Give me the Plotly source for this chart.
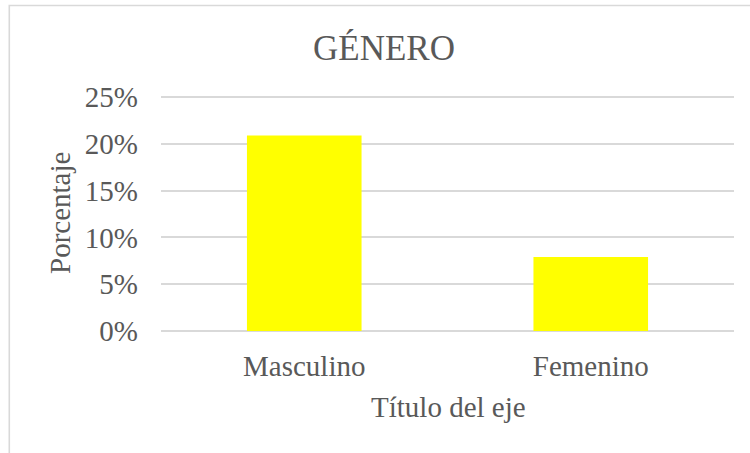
import plotly.graph_objects as go

categories = ["Masculino", "Femenino"]
values = [0.209, 0.079]
y_ticks = [0, 0.05, 0.10, 0.15, 0.20, 0.25]
y_tick_labels = ["0%", "5%", "10%", "15%", "20%", "25%"]

W, H = 750, 453
L, R, T, B = 161, 16, 96, 121
pw, ph = W - L - R, H - T - B

def px_x(p):
    return (p - L) / pw

def px_y(p):
    return (H - B - p) / ph

font_family = "Liberation Serif, Times New Roman, serif"
txt = "#595959"

fig = go.Figure(go.Bar(
    x=categories, y=values,
    marker=dict(color="#FFFF00", line=dict(width=0)),
    width=0.4,
))

fig.update_layout(
    width=W, height=H,
    margin=dict(l=L, r=R, t=T, b=B),
    paper_bgcolor="white", plot_bgcolor="white",
    font=dict(family=font_family, color=txt, size=29),
    showlegend=False,
    title=dict(text="GÉNERO", x=384 / W, xanchor="center", y=1 - 48 / H, yanchor="middle",
               font=dict(size=35, color=txt, family=font_family)),
    xaxis=dict(showgrid=False, showline=False, zeroline=False, ticks="",
               tickfont=dict(size=29, color=txt), ticklabelstandoff=14),
    yaxis=dict(range=[-0.0011, 0.2511], tickvals=y_ticks, ticktext=y_tick_labels,
               showgrid=True, gridcolor="#D9D9D9", gridwidth=1.8,
               zeroline=False, showline=False, ticks="",
               tickfont=dict(size=29, color=txt), ticklabelstandoff=22),
    shapes=[dict(type="rect", xref="paper", yref="paper",
                 x0=px_x(9.3), x1=px_x(770), y0=px_y(470), y1=px_y(5.5),
                 line=dict(color="#D9D9D9", width=1.6), fillcolor="rgba(0,0,0,0)", layer="below")],
    annotations=[
        dict(text="Porcentaje", textangle=-90, xref="paper", yref="paper",
             x=px_x(60), y=px_y(213), xanchor="center", yanchor="middle", showarrow=False,
             font=dict(size=29, color=txt, family=font_family)),
        dict(text="Título del eje", xref="paper", yref="paper",
             x=px_x(448), y=px_y(407), xanchor="center", yanchor="middle", showarrow=False,
             font=dict(size=29, color=txt, family=font_family)),
    ],
)

fig.write_html("out.html", config={"displayModeBar": False},
               post_script="document.body.style.margin='0';document.body.style.overflow='hidden';")
